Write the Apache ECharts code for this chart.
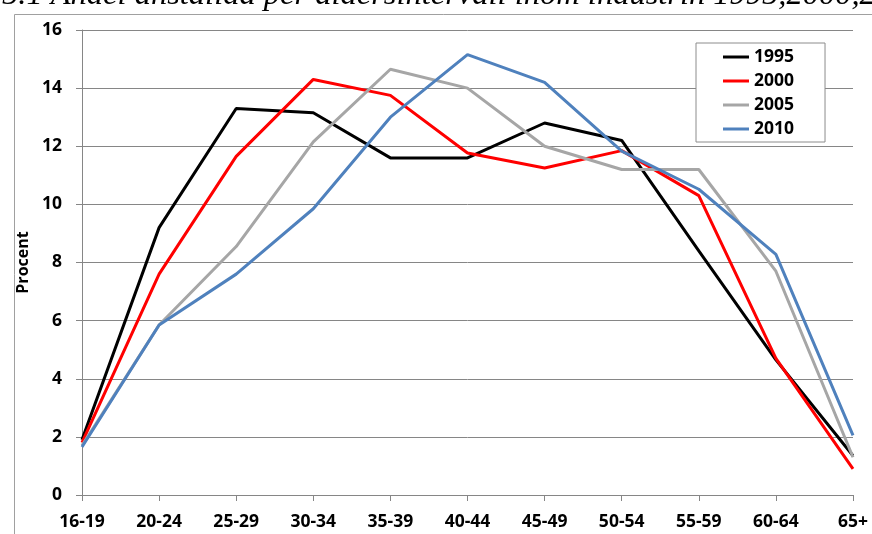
<!DOCTYPE html>
<html>
<head>
<meta charset="utf-8">
<script src="https://cdn.jsdelivr.net/npm/echarts@6/dist/echarts.min.js"></script>
<style>html,body{margin:0;padding:0;background:#fff;}#c{width:872px;height:534px;}</style>
</head>
<body>
<div id="c"></div>
<script>
var titleText = '5.1 Andel anställda per åldersintervall inom industrin 1995,2000,2005,2010';
var categories = ['16-19','20-24','25-29','30-34','35-39','40-44','45-49','50-54','55-59','60-64','65+'];
var seriesNames = ['1995','2000','2005','2010'];
var s1995 = [1.9, 9.2, 13.3, 13.15, 11.6, 11.6, 12.8, 12.2, 8.4, 4.65, 1.35];
var s2000 = [1.8, 7.6, 11.65, 14.3, 13.75, 11.77, 11.25, 11.85, 10.3, 4.7, 0.9];
var s2005 = [1.7, 5.85, 8.55, 12.15, 14.65, 14.0, 12.0, 11.2, 11.2, 7.7, 1.3];
var s2010 = [1.65, 5.85, 7.6, 9.85, 13.0, 15.15, 14.2, 11.83, 10.52, 8.28, 2.05];
var seriesData = [s1995, s2000, s2005, s2010];
var colors = ['#000000', '#ff0000', '#a6a6a6', '#4f81bd'];
var font = '"Open Sans", "Noto Sans", sans-serif';

var chart = echarts.init(document.getElementById('c'), null, {renderer: 'canvas'});
chart.setOption({
  backgroundColor: '#ffffff',
  animation: false,
  color: colors,
  graphic: [
    {type: 'rect', left: 12, top: 12, shape: {width: 900, height: 560}, style: {fill: 'none', stroke: '#a0a0a0', lineWidth: 1}, z: -1},
    {type: 'text', left: 2, top: -21, style: {text: titleText, font: 'italic 32.5px "Liberation Serif", "DejaVu Serif", serif', fill: '#000'}}
  ],
  grid: {left: 82, right: 19, top: 30, bottom: 39},
  legend: {
    left: 696, top: 43, orient: 'vertical',
    padding: [4, 31, 3, 27],
    itemWidth: 26, itemHeight: 3, itemGap: 4, itemTextGap: 2,
    icon: 'rect',
    backgroundColor: '#ffffff', borderColor: '#8c8c8c', borderWidth: 1,
    textStyle: {fontFamily: font, fontWeight: 700, fontSize: 17.5, color: '#000', lineHeight: 20},
    data: seriesNames
  },
  xAxis: {
    type: 'category', data: categories, boundaryGap: false,
    axisLine: {lineStyle: {color: '#868686', width: 1}},
    axisTick: {show: true, alignWithLabel: true, length: 6, lineStyle: {color: '#868686'}},
    axisLabel: {fontFamily: font, fontWeight: 700, fontSize: 17.5, color: '#000', margin: 18, interval: 0},
    splitLine: {show: false}
  },
  yAxis: {
    type: 'value', min: 0, max: 16, interval: 2,
    name: 'Procent', nameLocation: 'middle', nameGap: 43, nameRotate: 90,
    nameTextStyle: {fontFamily: font, fontWeight: 700, fontSize: 16, color: '#000'},
    axisLine: {show: true, lineStyle: {color: '#868686', width: 1}},
    axisTick: {show: true, length: 6, lineStyle: {color: '#868686'}},
    axisLabel: {fontFamily: font, fontWeight: 700, fontSize: 17.5, color: '#000', margin: 20},
    splitLine: {show: true, lineStyle: {color: '#868686', width: 1}}
  },
  series: seriesNames.map(function (n, i) {
    return {
      name: n, type: 'line', data: seriesData[i], symbol: 'none',
      lineStyle: {width: 3, color: colors[i]}, itemStyle: {color: colors[i]}
    };
  })
});
</script>
</body>
</html>
